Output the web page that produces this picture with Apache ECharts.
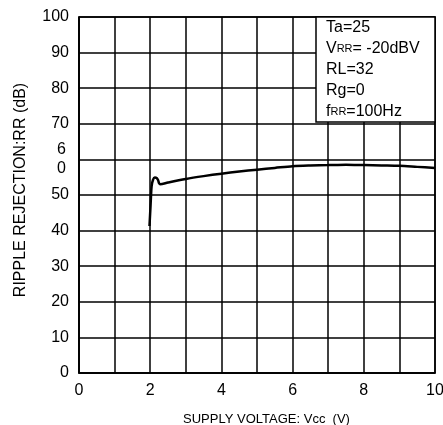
<!DOCTYPE html>
<html><head><meta charset="utf-8">
<script src="https://cdn.jsdelivr.net/npm/echarts@6/dist/echarts.min.js"></script>
<style>html,body{margin:0;padding:0;background:#fff}#c{width:443px;height:425px}</style>
</head><body><div id="c"></div>
<script>
// Data
const supplyVoltage   = [1.98, 2.01, 2.04, 2.08, 2.13, 2.18, 2.22, 2.25, 2.28, 2.5, 3.0, 3.5, 4.0, 4.5, 5.0, 5.5, 6.0, 6.5, 7.0, 7.5, 8.0, 8.5, 9.0, 9.5, 10.0];
const rippleRejection = [41.3, 47.0, 52.5, 54.3, 54.9, 54.8, 54.2, 53.3, 53.0, 53.5, 54.5, 55.3, 56.0, 56.6, 57.1, 57.6, 58.1, 58.3, 58.4, 58.5, 58.4, 58.3, 58.2, 57.9, 57.6];
const xTickLabels = [0, 2, 4, 6, 8, 10];
const yTickLabels = [0, 10, 20, 30, 40, 50, 60, 70, 80, 90, 100];
const conditions = ['Ta=25', 'V{s|RR}= -20dBV', 'RL=32', 'Rg=0', 'f{s|RR}=100Hz'];
const xAxisTitle = 'SUPPLY VOLTAGE: Vcc  (V)';
const yAxisTitle = 'RIPPLE REJECTION:RR (dB)';

const FONT = "'Liberation Sans', Arial, sans-serif";
const chart = echarts.init(document.getElementById('c'));
const seriesData = supplyVoltage.map((v, i) => [v, rippleRejection[i]]);

const gLeft = 79, gTop = 17, gRight = 8, gBottom = 52;
const boxX = 316, boxY = 17, boxW = 435 - 316, boxH = 105;

chart.setOption({
  animation: false,
  backgroundColor: '#fff',
  grid: { left: gLeft, right: gRight, top: gTop, bottom: gBottom, outerBoundsMode: 'none', containLabel: false,
          show: true, borderColor: '#000', borderWidth: 1.5, backgroundColor: 'transparent' },
  xAxis: {
    type: 'value', min: 0, max: 10, interval: 1,
    name: xAxisTitle, nameLocation: 'middle', nameGap: 40,
    nameTextStyle: { fontFamily: FONT, fontSize: 13, color: '#000', padding: [0, 0, 0, 19] },
    axisLine: { show: true, lineStyle: { color: '#000', width: 1.5 } },
    axisTick: { show: false },
    splitLine: { show: true, lineStyle: { color: '#000', width: 1.5 } },
    axisLabel: {
      fontFamily: FONT, fontSize: 16, color: '#000', margin: 10,
      formatter: v => xTickLabels.includes(v) ? String(v) : ''
    }
  },
  yAxis: {
    type: 'value', min: 0, max: 100, interval: 10,
    name: yAxisTitle, nameLocation: 'middle', nameGap: 50, nameRotate: 90,
    nameTextStyle: { fontFamily: FONT, fontSize: 16, color: '#000', padding: [0, 0, 0, 10] },
    axisLine: { show: true, lineStyle: { color: '#000', width: 1.5 } },
    axisTick: { show: false },
    splitLine: { show: true, lineStyle: { color: '#000', width: 1.5 } },
    axisLabel: {
      fontFamily: FONT, fontSize: 16, color: '#000', margin: 10,
      formatter: v => {
        if (!yTickLabels.includes(v)) return '';
        if (v === 60) return '{b|6}\n{b|0}';
        return String(v);
      },
      rich: { b: { fontFamily: FONT, fontSize: 16, color: '#000', lineHeight: 19, padding: [0, 3, 0, 0] } }
    }
  },
  series: [{
    type: 'line', data: seriesData, showSymbol: false, smooth: 0.3,
    lineStyle: { color: '#000', width: 2.5 }, z: 5
  }],
  graphic: [
    {
      type: 'rect', z: 10,
      shape: { x: boxX, y: boxY, width: boxW, height: boxH },
      style: { fill: '#fff', stroke: '#000', lineWidth: 1.5 }
    },
    ...conditions.map((t, i) => ({
      type: 'text', z: 11,
      x: boxX + 10, y: boxY + 11 + i * 21,
      style: {
        text: t, fontFamily: FONT, fontSize: 16, fill: '#000', verticalAlign: 'middle',
        rich: { s: { fontFamily: FONT, fontSize: 11, fill: '#000' } }
      }
    }))
  ]
});
</script></body></html>
